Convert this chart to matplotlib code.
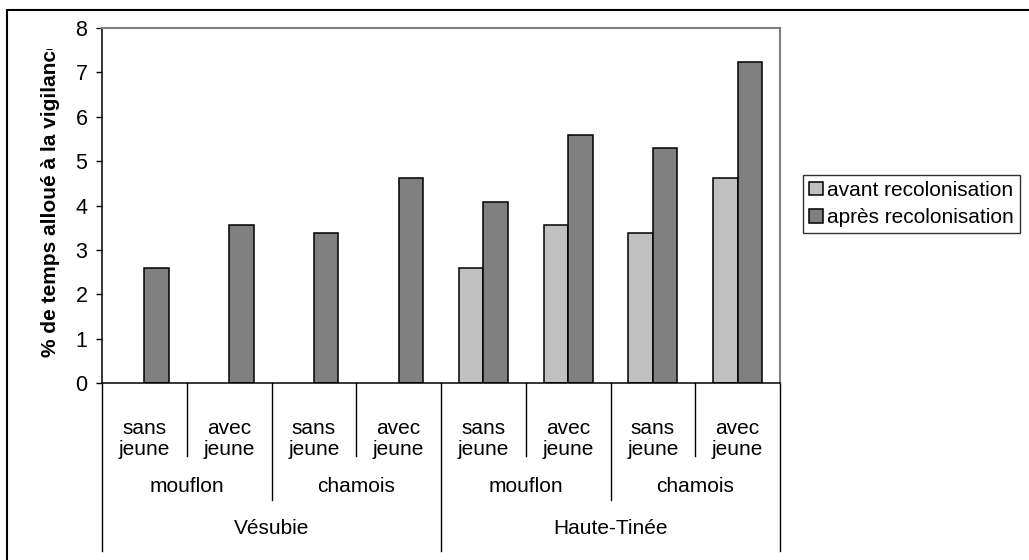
import matplotlib.pyplot as plt
import numpy as np
from matplotlib.patches import Rectangle
from matplotlib.lines import Line2D
from matplotlib.transforms import Bbox, TransformedBbox

plt.rcParams['font.family'] = ['Liberation Sans', 'DejaVu Sans']

# data
sites = ['Vésubie', 'Haute-Tinée']
especes = ['mouflon', 'chamois', 'mouflon', 'chamois']
groupes = ['sans\njeune', 'avec\njeune'] * 4
avant = [np.nan, np.nan, np.nan, np.nan, 2.60, 3.55, 3.37, 4.61]
apres = [2.60, 3.57, 3.38, 4.63, 4.09, 5.59, 5.30, 7.23]

W, H = 1029, 560
fig = plt.figure(figsize=(W / 100, H / 100), dpi=100)
ax = fig.add_axes([102 / W, 1 - 383 / H, (780 - 102) / W, (383 - 28) / H])

x = np.arange(len(apres))
bw = 0.29
ax.bar(x - bw / 2, avant, bw, color='#c0c0c0', edgecolor='black', linewidth=1.1,
       label='avant recolonisation')
ax.bar(x + bw / 2, apres, bw, color='#808080', edgecolor='black', linewidth=1.1,
       label='après recolonisation')

ax.set_xlim(-0.5, 7.5)
ax.set_ylim(0, 8)
ax.set_yticks(range(9))
ax.tick_params(axis='y', direction='out', length=4.5, width=1, labelsize=15.5, pad=6)
ax.set_xticks([])
ax.spines['top'].set_color('#808080')
ax.spines['right'].set_color('#808080')
ax.spines['left'].set_linewidth(1.1)
ax.spines['bottom'].set_linewidth(1.1)
for s in ['top', 'right']:
    ax.spines[s].set_linewidth(1.5)

# y label, clipped at the top like the original
lab = fig.text(51 / W, 1 - 357 / H, '% de temps alloué à la vigilance',
               rotation=90, ha='center', va='bottom', fontsize=15,
               fontweight='bold')
lab.set_clip_on(True)
lab.set_clip_box(TransformedBbox(Bbox([[0, 0], [1, 1 - 49 / H]]), fig.transFigure))

# multi-level category axis
def ypx(p):
    return (383 - p) / (383 - 28)

trans = ax.get_xaxis_transform()
bounds = np.arange(-0.5, 8, 1.0)
for b in bounds:
    if b in (-0.5, 3.5, 7.5):
        end = 551
    elif b in (1.5, 5.5):
        end = 500
    else:
        end = 456
    ax.add_line(Line2D([b, b], [0, ypx(end)], transform=trans, color='black',
                       linewidth=1, clip_on=False))

for i, g in enumerate(groupes):
    ax.text(i, ypx(439), g, transform=trans, ha='center', va='center',
            fontsize=15, linespacing=1.15)
for i, e in enumerate(especes):
    ax.text(2 * i + 0.5, ypx(487), e, transform=trans, ha='center', va='center',
            fontsize=15)
for i, s in enumerate(sites):
    ax.text(4 * i + 1.5, ypx(528), s, transform=trans, ha='center', va='center',
            fontsize=15)

# legend
leg = fig.legend(loc='center left', bbox_to_anchor=(803 / W, 1 - 204 / H),
                 fontsize=15, frameon=True, fancybox=False, handlelength=0.65,
                 handleheight=0.65, handletextpad=0.2, borderpad=0.3,
                 labelspacing=0.4, borderaxespad=0)
leg.get_frame().set_edgecolor('black')
leg.get_frame().set_linewidth(1)

# outer chart border
fig.patches.append(Rectangle((7 / W, -0.1), 1.2, 1.1 - 10 / H,
                             transform=fig.transFigure, fill=False,
                             edgecolor='black', linewidth=1.5))

fig.savefig('out.png', dpi=100)
